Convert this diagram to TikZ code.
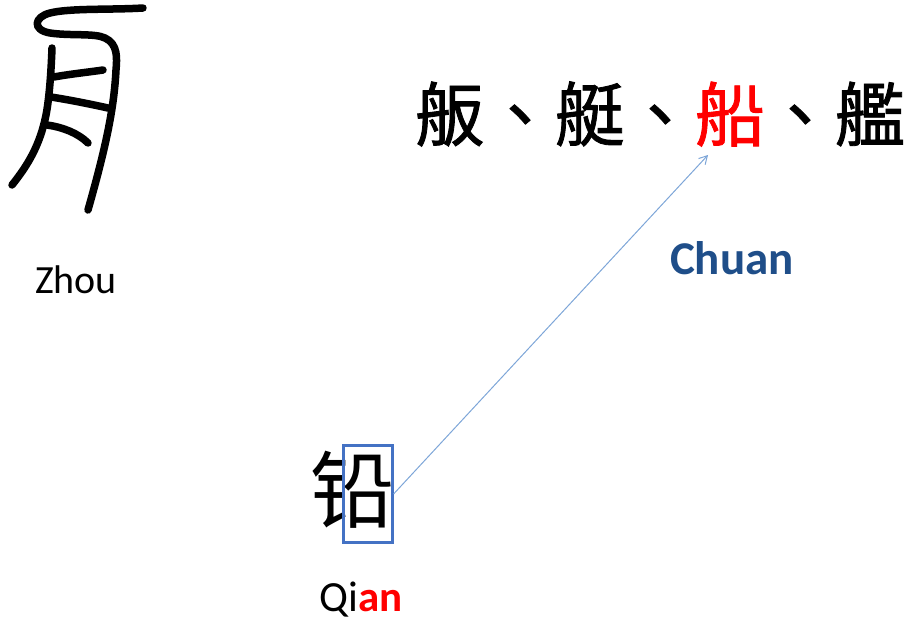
\documentclass[tikz,border=0pt]{standalone}
\usepackage{fontspec}
\setmainfont{Carlito}
\newfontfamily\cjk[FakeBold=1.2]{Noto Sans CJK TC}
\newfontfamily\cjksc{Noto Sans CJK SC}
\usetikzlibrary{arrows.meta}
\definecolor{chuanblue}{HTML}{1F4E89}
\definecolor{boxblue}{HTML}{4472C4}
\definecolor{arrowblue}{HTML}{7EA6D8}
\definecolor{hired}{HTML}{FF0000}
\tikzset{
  glyph/.style={line width=7.5pt, line cap=round, line join=round},
  lbl/.style={inner sep=0pt, anchor=center},
}
\begin{document}
\begin{tikzpicture}[x=1pt,y=-1pt]
\useasboundingbox (0,0) rectangle (908,623);
% seal script zhou
\draw[glyph] (143,8) .. controls (110,10) and (70,8) .. (50,13)
  .. controls (34,17) and (32,30) .. (50,33)
  .. controls (70,36) and (95,33) .. (105,38)
  .. controls (118,44) and (117,58) .. (116,70)
  .. controls (114,110) and (105,150) .. (88,210);
\draw[glyph] (52,48) .. controls (51,75) and (49,100) .. (46,115)
  .. controls (40,145) and (28,165) .. (12,185);
\draw[glyph] (54,77) .. controls (70,74) and (90,72) .. (103,70);
\draw[glyph] (51,97) .. controls (70,100) and (90,104) .. (108,108);
\draw[glyph] (47,125) .. controls (62,127) and (78,133) .. (88,143);
\node[lbl] (zhou) at (76,280) {\fontsize{40}{44}\selectfont Zhou};
% top characters
\node[lbl] (chars) at (660,114) {\cjk\fontsize{70}{74}\selectfont 舨、艇、\textcolor{hired}{船}、艦};
\coordinate (chuanpt) at (708,155);
\node[lbl] (chuan) at (732,258) {\fontsize{47}{50}\selectfont\bfseries\color{chuanblue}Chuan};
% qian
\node[lbl] (qianchar) at (352,490) {\cjksc\fontsize{84}{90}\selectfont 铅};
\node[draw=boxblue, line width=2.2pt, minimum width=49pt, minimum height=97pt, inner sep=0pt] (box) at (368,494) {};
\node[lbl] (qian) at (361,600) {\fontsize{43}{46}\selectfont Qi\textcolor{hired}{\bfseries an}};
\draw[arrowblue, line width=1pt, -{Straight Barb[length=8pt,width=9pt]}] (box.east) -- (chuanpt);
\end{tikzpicture}
\end{document}
